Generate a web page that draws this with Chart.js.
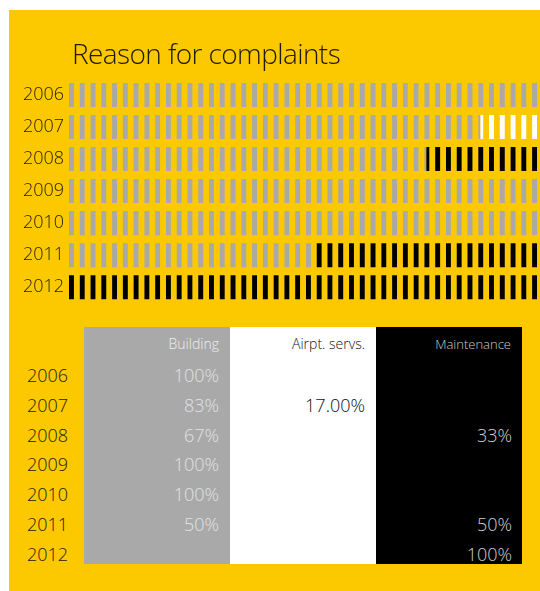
<!DOCTYPE html>
<html>
<head>
<meta charset="utf-8">
<script src="https://cdn.jsdelivr.net/npm/chart.js@4"></script>
<style>
  html, body { margin: 0; padding: 0; background: #fff; }
  #page { position: relative; width: 540px; height: 591px; overflow: hidden; font-family: "Open Sans", sans-serif; font-weight: 300; }
  #panel { position: absolute; left: 9px; top: 10px; width: 531px; height: 581px; background: #fcc800; }
  #bars { position: absolute; left: 9px; top: 10px; }
  .col { position: absolute; top: 327px; height: 237px; width: 146px; }
  .cell { position: absolute; height: 30px; line-height: 30px; white-space: nowrap; }
</style>
</head>
<body>
<div id="page">
  <div id="panel"></div>
  <canvas id="bars" width="531" height="309"></canvas>
  <div id="table"></div>
</div>
<script>
// years and column names
const years = ['2006', '2007', '2008', '2009', '2010', '2011', '2012'];
const columns = ['Building', 'Airpt. servs.', 'Maintenance'];

// shares printed in the table (null = empty cell)
const building = [100, 83, 67, 100, 100, 50, null];
const airport = [null, 17, null, null, null, null, null];
const maintenance = [null, null, 33, null, null, 50, 100];

// bar lengths as drawn in the picture (they don't follow the table exactly)
const barBuilding = [100, 87.5, 76, 100, 100, 52, 0];
const barAirport = [0, 12.5, 0, 0, 0, 0, 0];
const barMaintenance = [0, 0, 24, 0, 0, 48, 100];

const FONT = '"Open Sans", sans-serif';
const AREA_LEFT = 60;

// vertical stripe fill, one stripe every ~10.8px starting at the bar start
function stripes(color) {
    const tile = document.createElement('canvas');
    tile.width = 11;
    tile.height = 4;
    const t = tile.getContext('2d');
    t.fillStyle = color;
    t.fillRect(0, 0, 5, 4);
    const pat = document.getElementById('bars').getContext('2d').createPattern(tile, 'repeat');
    pat.setTransform(new DOMMatrix().translate(AREA_LEFT, 0).scale(10.77 / 11, 1));
    return pat;
}

const titlePlugin = {
    id: 'leftTitle',
    afterDraw(chart) {
        const ctx = chart.ctx;
        ctx.save();
        ctx.font = '300 28px ' + FONT;
        if ('letterSpacing' in ctx) ctx.letterSpacing = '-0.6px';
        ctx.fillStyle = '#1e1a05';
        ctx.textBaseline = 'alphabetic';
        ctx.fillText('Reason for complaints', 63, 54);
        ctx.restore();
    }
};

new Chart(document.getElementById('bars'), {
    type: 'bar',
    data: {
        labels: years,
        datasets: [
            { label: columns[0], data: barBuilding, backgroundColor: stripes('#a9a9a9') },
            { label: columns[1], data: barAirport, backgroundColor: stripes('#ffffff') },
            { label: columns[2], data: barMaintenance, backgroundColor: stripes('#000000') }
        ]
    },
    options: {
        indexAxis: 'y',
        responsive: false,
        animation: false,
        events: [],
        layout: { padding: { top: 69, bottom: 0, left: 0, right: 1 } },
        datasets: { bar: { barPercentage: 0.75, categoryPercentage: 1, borderWidth: 0 } },
        scales: {
            x: { stacked: true, min: 0, max: 100, display: false },
            y: {
                stacked: true,
                grid: { display: false, drawTicks: false },
                border: { display: false },
                ticks: { color: '#231f05', padding: 5, font: { family: FONT, size: 18, weight: 300 } },
                afterFit(scale) { scale.width = AREA_LEFT; }
            }
        },
        plugins: { legend: { display: false }, tooltip: { enabled: false }, title: { display: false } }
    },
    plugins: [titlePlugin]
});

// table below the bars
const table = document.getElementById('table');
const colLeft = [84, 230, 376];
const colBg = ['#a9a9a9', '#ffffff', '#000000'];
const headColor = ['#eeeeee', '#111111', '#cccccc'];
const headSize = [14, 14, 13];
const valColor = ['#e2e2e2', '#111111', '#d0d0d0'];
const values = [building, airport, maintenance];

function cell(text, left, top, width, align, color, size) {
    const d = document.createElement('div');
    d.className = 'cell';
    d.textContent = text;
    d.style.left = left + 'px';
    d.style.top = top + 'px';
    d.style.width = width + 'px';
    d.style.textAlign = align;
    d.style.color = color;
    d.style.fontSize = size + 'px';
    table.appendChild(d);
}

colLeft.forEach((x, c) => {
    const bg = document.createElement('div');
    bg.className = 'col';
    bg.style.left = x + 'px';
    bg.style.background = colBg[c];
    table.appendChild(bg);
    cell(columns[c], x, 329, 135, 'right', headColor[c], headSize[c]);
});

years.forEach((yr, i) => {
    const top = 360 + i * 29.8;
    cell(yr, 27, top, 60, 'left', '#231f05', 18);
    values.forEach((arr, c) => {
        const v = arr[i];
        if (v === null) return;
        const txt = c === 1 ? v.toFixed(2) + '%' : v + '%';
        cell(txt, colLeft[c], top, c === 2 ? 136 : 135, 'right', valColor[c], 18);
    });
});
</script>
</body>
</html>
